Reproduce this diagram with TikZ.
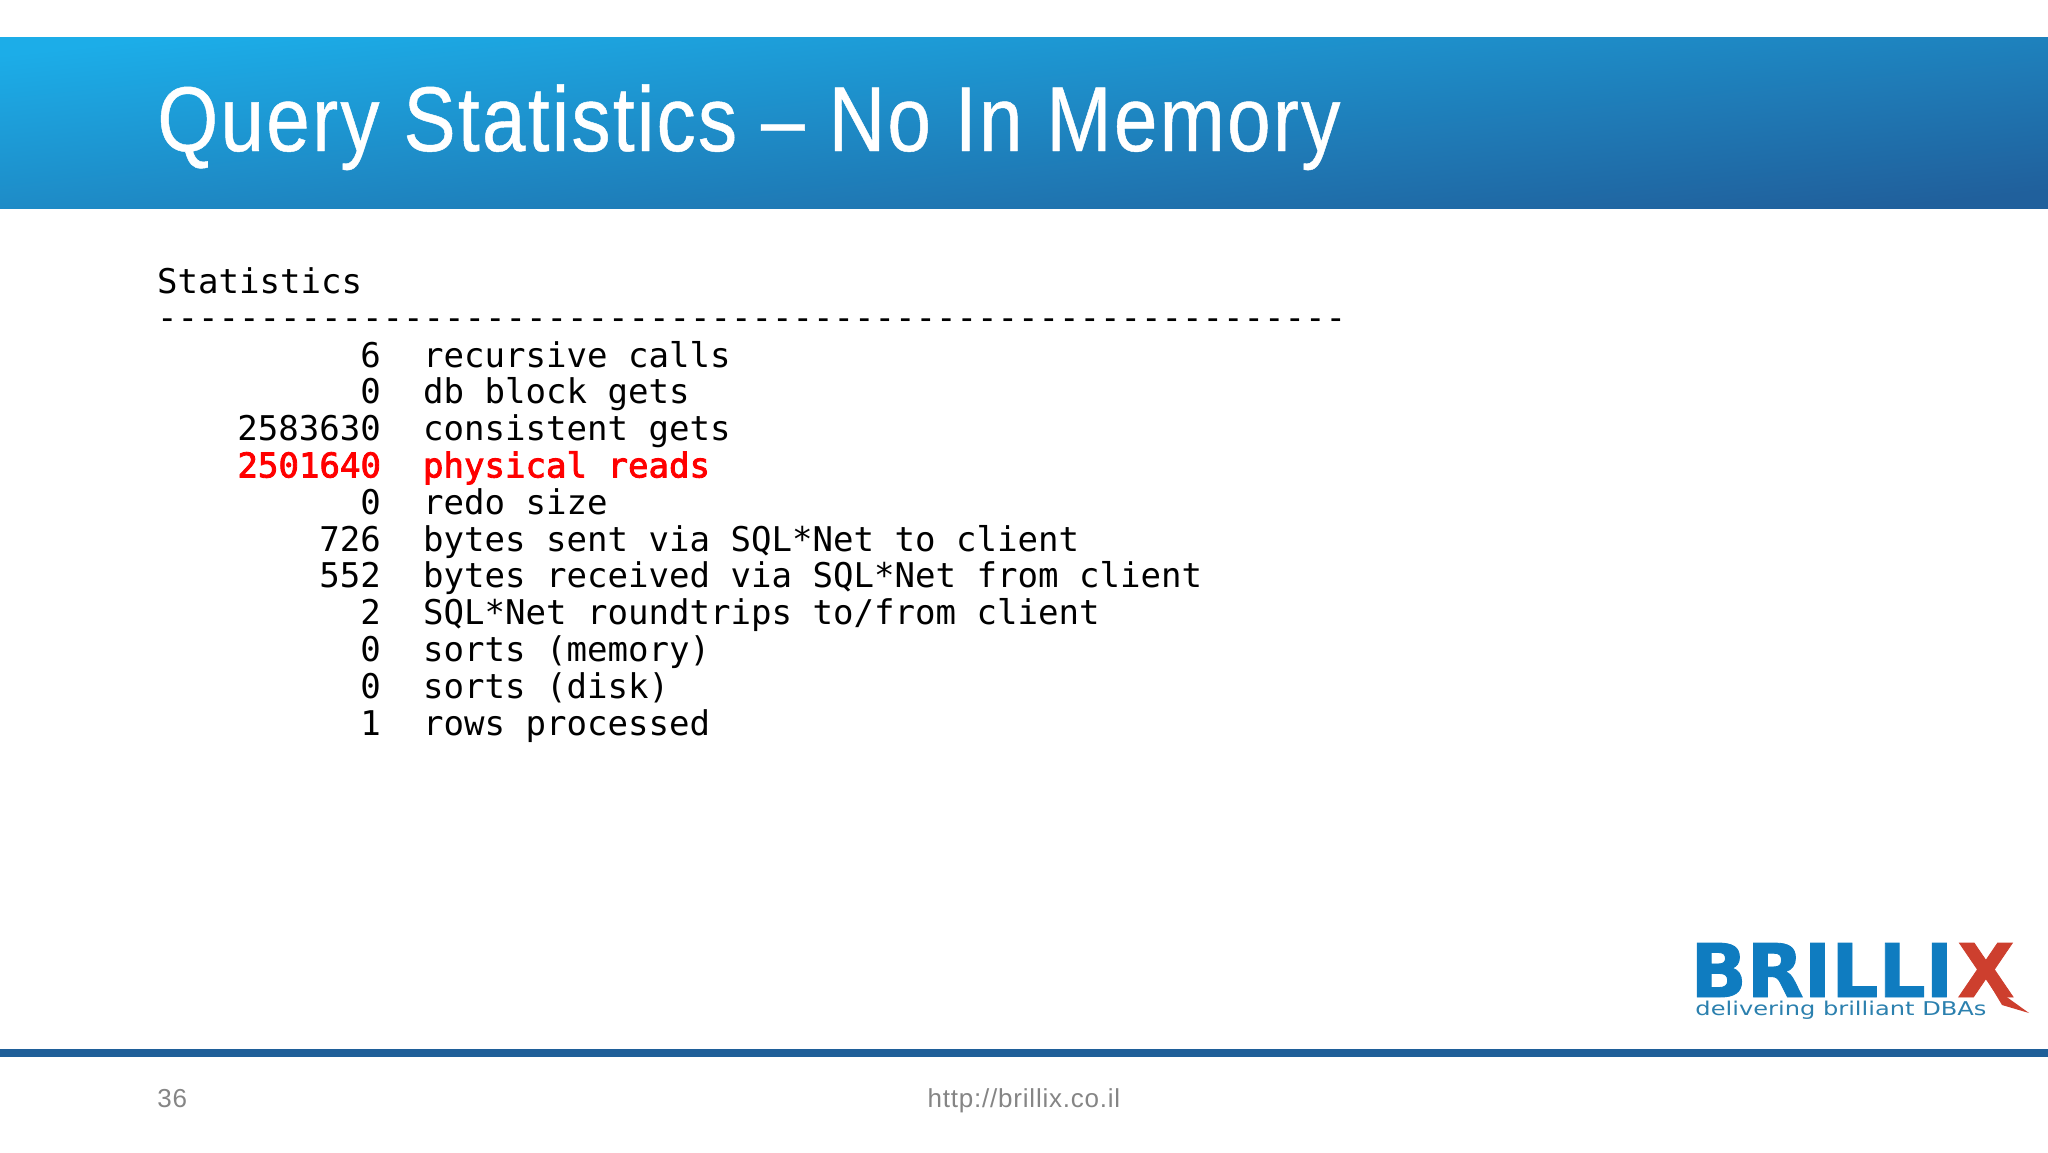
\documentclass[tikz,border=0pt]{standalone}
\usepackage{fontspec}
\setmainfont{Liberation Sans}
\newfontfamily\titlefont[FakeStretch=0.85, LetterSpace=2.5, FakeBold=0.5]{Liberation Sans}
\newfontfamily\footfont[LetterSpace=3]{Liberation Sans}
\newfontfamily\statfont{DejaVu Sans Mono}
\newfontfamily\hotfont[FakeBold=2.5]{DejaVu Sans Mono}
\newfontfamily\logofont[FakeBold=1.2]{DejaVu Sans Bold}
\newfontfamily\tagfont[FakeStretch=1.27]{DejaVu Sans}
\definecolor{bandlight}{HTML}{1CADE8}
\definecolor{banddark}{HTML}{20609C}
\definecolor{rulecolor}{HTML}{1F5F99}
\definecolor{logoblue}{HTML}{0F7CC0}
\definecolor{logored}{HTML}{CD3F2E}
\definecolor{tagblue}{HTML}{2B80AE}
\definecolor{footgrey}{HTML}{858585}
\begin{document}
\begin{tikzpicture}[x=0.5pt, y=-0.5pt, node distance=18.4pt,
    rowtext/.style={inner sep=0pt, font=\fontsize{17.03pt}{20pt}\statfont, text height=13pt, text depth=6pt, align=flush left},
    headtext/.style={rowtext, text width=600pt},
    labeltext/.style={rowtext, text width=450pt},
    numtext/.style={rowtext, text width=120pt, align=flush right, left of=#1, node distance=306pt},
    hot/.style={text=red, font=\fontsize{17.03pt}{20pt}\hotfont},
    foottext/.style={inner sep=0pt, font=\fontsize{13pt}{15pt}\footfont, text=footgrey, anchor=base}]
    \useasboundingbox (0,0) rectangle (2048,1152);

    % Title band
    \shade[top color=bandlight, bottom color=banddark, shading angle=6] (0,37) rectangle (2048,208);
    \node[inner sep=0pt, anchor=base west, text=white, font=\fontsize{46pt}{50pt}\titlefont] (title) at (157,151) {Query Statistics – No In Memory};

    % Header rows
    \node[headtext] (head) at (757,286) {Statistics};
    \node[headtext, below of=head] (dashes) {----------------------------------------------------------};

    % Statistics rows
    \node[labeltext] (recursive) at (873,360) {recursive calls};
    \node[labeltext, below of=recursive] (dbblock) {db block gets};
    \node[labeltext, below of=dbblock] (consistent) {consistent gets};
    \node[labeltext, hot, below of=consistent] (physical) {physical reads};
    \node[labeltext, below of=physical] (redo) {redo size};
    \node[labeltext, below of=redo] (sent) {bytes sent via SQL*Net to client};
    \node[labeltext, below of=sent] (received) {bytes received via SQL*Net from client};
    \node[labeltext, below of=received] (roundtrips) {SQL*Net roundtrips to/from client};
    \node[labeltext, below of=roundtrips] (sortsmem) {sorts (memory)};
    \node[labeltext, below of=sortsmem] (sortsdisk) {sorts (disk)};
    \node[labeltext, below of=sortsdisk] (rows) {rows processed};

    % Values
    \node[numtext=recursive] (nrecursive) {6};
    \node[numtext=dbblock] (ndbblock) {0};
    \node[numtext=consistent] (nconsistent) {2583630};
    \node[numtext=physical, hot] (nphysical) {2501640};
    \node[numtext=redo] (nredo) {0};
    \node[numtext=sent] (nsent) {726};
    \node[numtext=received] (nreceived) {552};
    \node[numtext=roundtrips] (nroundtrips) {2};
    \node[numtext=sortsmem] (nsortsmem) {0};
    \node[numtext=sortsdisk] (nsortsdisk) {0};
    \node[numtext=rows] (nrows) {1};

    % Logo
    \node[inner sep=0pt, anchor=base west, text=logoblue, font=\fontsize{37pt}{40pt}\logofont] (brilli) at (1690,997) {BRILLI};
    \node[inner sep=0pt, anchor=base west, text=logored, font=\fontsize{37pt}{40pt}\logofont] (xletter) at (1957,997) {X};
    \fill[logored] (1990,985) -- (2029,1013) -- (2002,1005) -- cycle;
    \node[inner sep=0pt, anchor=base west, text=tagblue, font=\fontsize{9.5pt}{11pt}\tagfont] (tagline) at (1695,1015) {delivering brilliant DBAs};

    % Footer
    \fill[rulecolor] (0,1049) rectangle (2048,1057);
    \node[foottext, anchor=base west] (page) at (157,1107) {36};
    \node[foottext] (url) at (1024,1107) {http://brillix.co.il};
\end{tikzpicture}
\end{document}
